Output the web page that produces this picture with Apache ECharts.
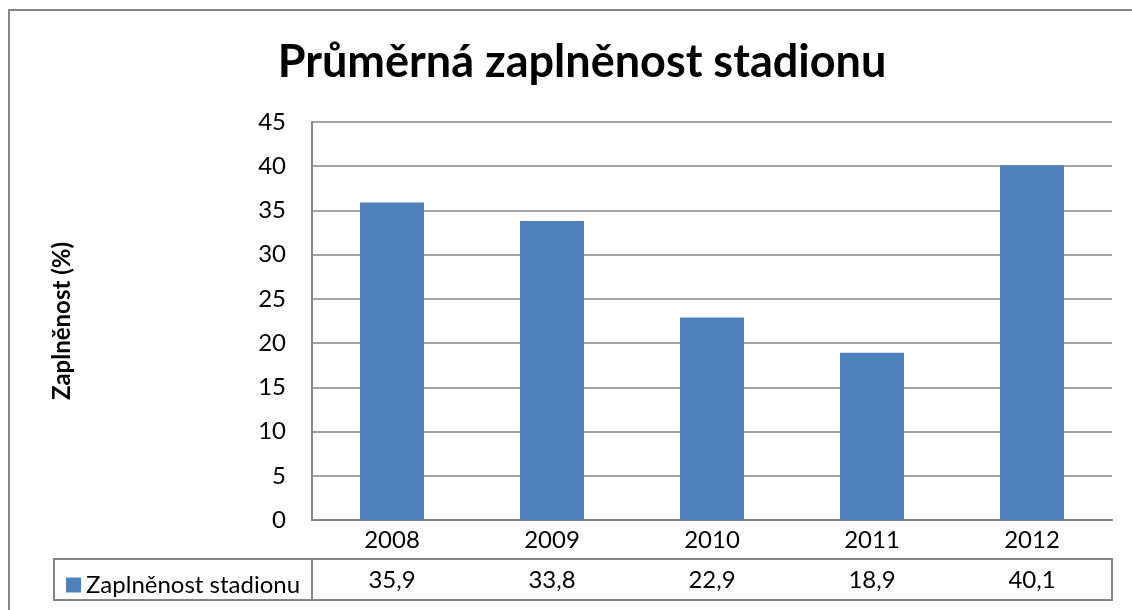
<!DOCTYPE html>
<html lang="cs">
<head>
    <meta charset="UTF-8">
    <title>Průměrná zaplněnost stadionu</title>
    <script src="https://cdn.jsdelivr.net/npm/echarts@6/dist/echarts.min.js"></script>
    <style>
        html, body { margin: 0; padding: 0; background: #fff; }
        #container { width: 1132px; height: 610px; }
    </style>
</head>
<body>
    <div id="container"></div>
<script>
    var years = ['2008', '2009', '2010', '2011', '2012'];
    var fill = [35.9, 33.8, 22.9, 18.9, 40.1];
    var seriesName = 'Zaplněnost stadionu';
    var font = 'Lato, "Open Sans", sans-serif';
    var gray = '#868686';

    // hodnoty pro tabulku pod grafem (desetinna carka)
    var fillText = fill.map(function (v) { return v.toFixed(1).replace('.', ','); });

    var myChart = echarts.init(document.getElementById('container'));
    var option = {
        backgroundColor: '#fff',
        animation: false,
        textStyle: { fontFamily: font },
        title: {
            text: 'Průměrná zaplněnost stadionu',
            left: 577,
            top: 35,
            textAlign: 'center',
            textStyle: { fontSize: 45, fontWeight: 'bold', color: '#000', fontFamily: font }
        },
        legend: {
            left: 61,
            top: 568,
            icon: 'rect',
            itemWidth: 15,
            itemHeight: 15,
            itemGap: 6,
            textStyle: { fontSize: 24, color: '#000', fontFamily: font },
            data: [seriesName]
        },
        grid: { left: 312, right: 20, top: 122, bottom: 90 },
        xAxis: [
            {
                type: 'category',
                data: years,
                axisLine: { lineStyle: { color: gray, width: 2 } },
                axisTick: { length: 80, lineStyle: { color: gray, width: 2 } },
                axisLabel: { margin: 8, fontSize: 24, color: '#000', fontFamily: font }
            },
            {
                type: 'category',
                data: fillText,
                position: 'bottom',
                offset: 39,
                axisLine: { lineStyle: { color: gray, width: 2 } },
                axisTick: { show: false },
                axisLabel: { margin: 9, fontSize: 24, color: '#000', fontFamily: font }
            }
        ],
        yAxis: {
            type: 'value',
            min: 0,
            max: 45,
            interval: 5,
            name: 'Zaplněnost (%)',
            nameLocation: 'middle',
            nameGap: 238,
            nameTextStyle: { fontSize: 24, fontWeight: 'bold', color: '#000', fontFamily: font },
            axisLine: { show: true, lineStyle: { color: gray, width: 2 } },
            axisTick: { show: false },
            axisLabel: { margin: 26, fontSize: 24, color: '#000', fontFamily: font },
            splitLine: { lineStyle: { color: gray, width: 1.5 } }
        },
        series: [
            {
                name: seriesName,
                type: 'bar',
                data: fill,
                barWidth: '40%',
                itemStyle: { color: '#4F81BD' }
            }
        ],
        graphic: [
            {
                type: 'rect',
                z: -1,
                shape: { x: 9, y: 10, width: 1300, height: 800 },
                style: { fill: 'none', stroke: gray, lineWidth: 2 }
            },
            {
                type: 'rect',
                shape: { x: 54, y: 559, width: 1058, height: 41 },
                style: { fill: 'none', stroke: gray, lineWidth: 2 }
            },
            {
                type: 'line',
                shape: { x1: 312, y1: 559, x2: 312, y2: 600 },
                style: { stroke: gray, lineWidth: 2 }
            }
        ]
    };
    myChart.setOption(option);
</script>
</body>
</html>
